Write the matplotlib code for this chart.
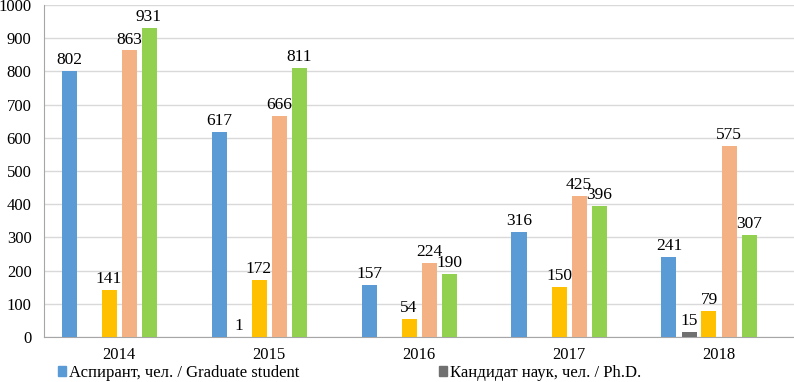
import numpy as np
import matplotlib
matplotlib.use("Agg")
import matplotlib.pyplot as plt
from matplotlib.patches import Patch

years = ["2014", "2015", "2016", "2017", "2018"]
graduate = [802, 617, 157, 316, 241]
phd = [None, 1, None, None, 15]
yellow_s = [141, 172, 54, 150, 79]
orange_s = [863, 666, 224, 425, 575]
green_s = [931, 811, 190, 396, 307]
sixth = [None, None, None, None, None]

series = [graduate, phd, yellow_s, orange_s, green_s, sixth]
colors = ["#5B9BD5", "#707070", "#FFC000", "#F4B183", "#92D050", "#4472C4"]
legend_labels = ["Аспирант, чел. / Graduate student", "Кандидат наук, чел. / Ph.D."]

plt.rcParams['font.family'] = ['Liberation Serif', 'DejaVu Serif']

fig = plt.figure(figsize=(7.94, 3.82), dpi=100)
ax = fig.add_axes([44 / 794, 45 / 382, 750 / 794, 332 / 382])

x = np.arange(len(years))
slot = 20 / 150
width = 15 / 150
for i, (vals, col) in enumerate(zip(series, colors)):
    off = (i - 2.5) * slot
    for xi, v in zip(x, vals):
        if v is None:
            continue
        ax.bar(xi + off, v, width=width, color=col, zorder=3)
        ax.annotate(str(v), (xi + off, v), xytext=(0, 2), textcoords="offset points",
                    ha="center", va="bottom", fontsize=12.5, color="#000000")

ax.set_xlim(-0.5, len(years) - 0.5)
ax.set_ylim(0, 1000)
ax.set_yticks(range(0, 1001, 100))
ax.set_xticks(x)
ax.set_xticklabels(years)
ax.tick_params(axis="both", length=0, labelsize=12, colors="#000000")
ax.tick_params(axis="x", pad=7)
ax.tick_params(axis="y", pad=9)
ax.grid(axis="y", color="#D9D9D9", linewidth=1, zorder=0)
for s in ["top", "right"]:
    ax.spines[s].set_visible(False)
ax.spines["left"].set_color("#A6A6A6")
ax.spines["bottom"].set_color("#A6A6A6")

handles = [Patch(color=colors[0]), Patch(color=colors[1])]
fig.legend(handles, legend_labels, ncol=2, loc="center left",
           bbox_to_anchor=(58 / 794, 1 - 373 / 382), frameon=False, fontsize=12,
           handlelength=0.45, handleheight=0.5, handletextpad=0.2, columnspacing=8.4,
           borderaxespad=0, borderpad=0)

fig.savefig("out.png", dpi=100)
